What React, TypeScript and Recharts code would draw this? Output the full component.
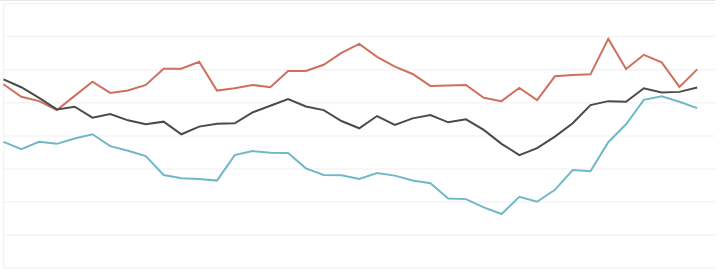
import { LineChart, Line, XAxis, YAxis, CartesianGrid, ReferenceLine } from 'recharts';

const redSeries = [
  55.6, 51.8, 50.5, 47.8, 52.1, 56.4, 53.0, 53.7, 55.4, 60.3,
  60.3, 62.4, 53.7, 54.4, 55.4, 54.7, 59.6, 59.6, 61.5, 65.1,
  67.8, 63.9, 60.9, 58.7, 55.1, 55.2, 55.4, 51.5, 50.5, 54.5,
  50.8, 58.0, 58.4, 58.6, 69.3, 60.2, 64.5, 62.2, 54.8, 60.1,
];

const graySeries = [
  57.1, 54.7, 51.5, 48.0, 48.8, 45.5, 46.6, 44.7, 43.5, 44.3,
  40.5, 42.8, 43.7, 43.8, 47.1, 49.1, 51.1, 48.9, 47.8, 44.5,
  42.3, 46.0, 43.3, 45.3, 46.3, 44.1, 45.0, 41.8, 37.6, 34.2,
  36.3, 39.8, 43.8, 49.3, 50.5, 50.3, 54.4, 53.1, 53.3, 54.6,
];

const tealSeries = [
  38.2, 36.0, 38.2, 37.6, 39.2, 40.5, 36.9, 35.5, 33.9, 28.2,
  27.2, 27.0, 26.5, 34.2, 35.4, 34.9, 34.8, 30.2, 28.2, 28.1,
  27.0, 28.8, 28.0, 26.5, 25.7, 21.1, 20.9, 18.4, 16.4, 21.6,
  20.1, 23.7, 29.7, 29.3, 38.1, 43.5, 50.9, 52.0, 50.3, 48.4,
];

const yTicks = [0, 10, 20, 30, 40, 50, 60, 70, 80];

const data = redSeries.map((v, i) => ({
  i,
  red: v,
  gray: graySeries[i],
  teal: tealSeries[i],
}));

export default function App() {
  return (
    <div style={{ position: 'absolute', left: 0, top: 0, width: 720, height: 280, background: '#fff' }}>
      <div style={{ position: 'absolute', left: 0, top: 0, width: 715, height: 1, background: '#e6e6e6' }} />
      <LineChart width={720} height={280} data={data} margin={{ top: 3.5, right: 5, left: 3.5, bottom: 11.7 }}>
        <CartesianGrid vertical={false} stroke="#f4f4f4" strokeWidth={1.5} />
        <XAxis dataKey="i" type="number" domain={[0, 40]} hide />
        <YAxis domain={[0, 80]} ticks={yTicks} hide />
        <ReferenceLine x={0} stroke="#f4f4f4" strokeWidth={1.5} />
        <Line type="linear" dataKey="red" stroke="#cf6f5d" strokeWidth={2} dot={false} isAnimationActive={false} />
        <Line type="linear" dataKey="gray" stroke="#4a4a4a" strokeWidth={2} dot={false} isAnimationActive={false} />
        <Line type="linear" dataKey="teal" stroke="#6fb8c6" strokeWidth={2} dot={false} isAnimationActive={false} />
      </LineChart>
    </div>
  );
}
